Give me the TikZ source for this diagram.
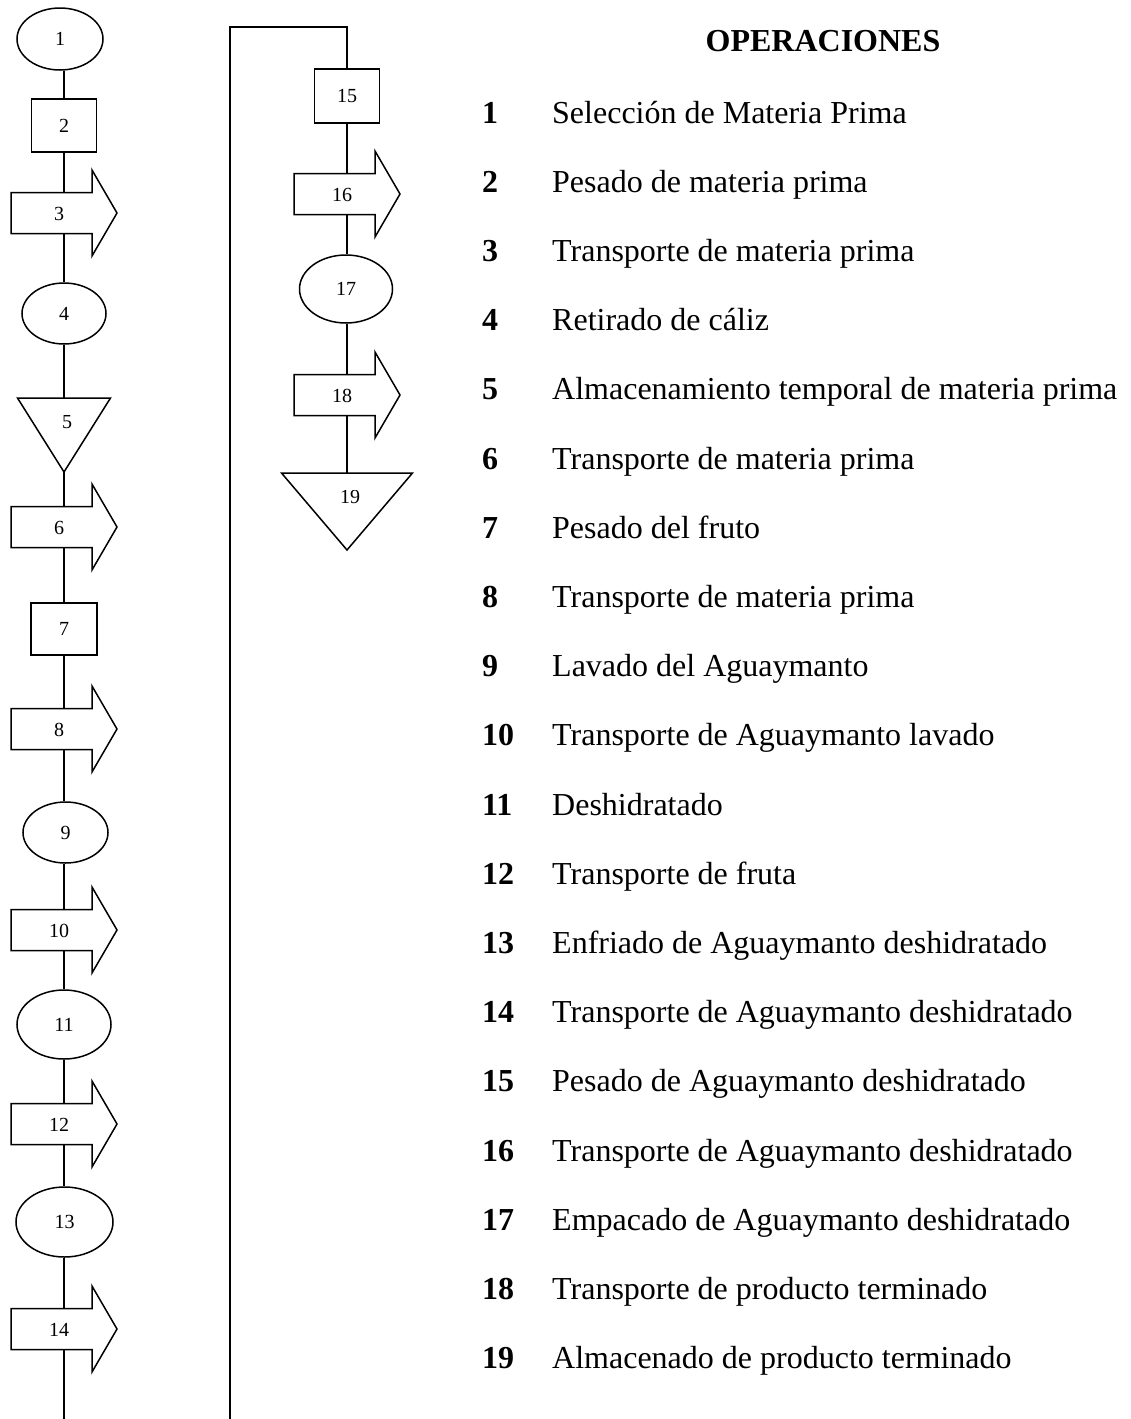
\documentclass[tikz,border=0pt]{standalone}
\usepackage{fontspec}
\setmainfont{Liberation Serif}
\usetikzlibrary{shapes.geometric,calc}
\newcommand\lblfont{\fontsize{20}{20}\selectfont}
\newcommand\flecha[4]{% name, line x, centre y, label
\begin{scope}[shift={(#2,#3)}]
\draw[shp] (-53,-20.5) -- (28,-20.5) -- (28,-43) -- (53,0) -- (28,43) -- (28,20.5) -- (-53,20.5) -- cycle;
\node[lbl] (#1) at (-5,1) {#4};
\coordinate (#1t) at (0,-20.5);
\coordinate (#1b) at (0,20.5);
\end{scope}}
\newcommand\almacen[6]{% name, x, top y, half width, height, label
\begin{scope}[shift={(#2,#3)}]
\draw[shp] (-#4,0) -- (#4,0) -- (0,#5) -- cycle;
\begin{scope}
\clip (-30,17.5) rectangle (30,45);
\node[lbl] (#1) at (3,24) {#6};
\end{scope}
\coordinate (#1t) at (0,0);
\coordinate (#1b) at (0,#5);
\end{scope}}
\begin{document}
\begin{tikzpicture}[x=1pt,y=-1pt,
  shp/.style={draw=black,line width=1.5pt,fill=white,line join=miter},
  ell/.style={shp,ellipse,inner sep=0pt,font=\lblfont},
  box/.style={shp,rectangle,inner sep=0pt,font=\lblfont},
  lbl/.style={font=\lblfont,inner sep=0pt},
  conn/.style={draw=black,line width=1.5pt},
  num/.style={font=\fontsize{32}{32}\selectfont\bfseries,anchor=base west,inner sep=0pt},
  txt/.style={font=\fontsize{32}{32}\selectfont,anchor=base west,inner sep=0pt}]
\useasboundingbox[fill=white] (0,0) rectangle (1130,1419);

% left column
\node[ell,minimum width=86,minimum height=62] (e1) at (60,39) {1};
\node[box,minimum width=65,minimum height=53] (r2) at (64,125.5) {2};
\flecha{a3}{64}{213}{3}
\node[ell,minimum width=84,minimum height=61] (e4) at (64,313.5) {4};
\almacen{t5}{64}{398}{46.5}{74}{5}
\flecha{a6}{64}{527}{6}
\node[box,minimum width=66,minimum height=52] (r7) at (64,629) {7};
\flecha{a8}{64}{729}{8}
\node[ell,minimum width=85,minimum height=61] (e9) at (65.5,832.5) {9};
\flecha{a10}{64}{930}{10}
\node[ell,minimum width=94,minimum height=69] (e11) at (64,1024.5) {11};
\flecha{a12}{64}{1124}{12}
\node[ell,minimum width=97,minimum height=70] (e13) at (64.5,1222) {13};
\flecha{a14}{64}{1329}{14}
\coordinate (cL) at (64,1419);

% right column
\coordinate (cR) at (230,1419);
\coordinate (cT) at (230,27);
\node[box,minimum width=65,minimum height=54] (r15) at (347,96) {15};
\flecha{a16}{347}{194}{16}
\node[ell,minimum width=93,minimum height=68] (e17) at (346,289) {17};
\flecha{a18}{347}{395}{18}
\almacen{t19}{347}{473}{65.5}{77}{19}

% connectors
\draw[conn] (r2.north |- e1.south) -- (r2.north);
\draw[conn] (r2.south) -- (a3t);
\draw[conn] (a3b) -- (e4.north);
\draw[conn] (e4.south) -- (t5t);
\draw[conn] (t5b) -- (a6t);
\draw[conn] (a6b) -- (r7.north);
\draw[conn] (r7.south) -- (a8t);
\draw[conn] (a8b) -- (a8b |- e9.north);
\draw[conn] (a10t |- e9.south) -- (a10t);
\draw[conn] (a10b) -- (e11.north);
\draw[conn] (e11.south) -- (a12t);
\draw[conn] (a12b) -- (a12b |- e13.north);
\draw[conn] (a14t |- e13.south) -- (a14t);
\draw[conn] (a14b) -- (cL);
\draw[conn] (cR) -- (cT) -| (r15.north);
\draw[conn] (r15.south) -- (a16t);
\draw[conn] (a16b) -- (a16b |- e17.north);
\draw[conn] (a18t |- e17.south) -- (a18t);
\draw[conn] (a18b) -- (t19t);

% legend
\node[font=\fontsize{32}{32}\selectfont\bfseries,anchor=base,inner sep=0pt] (head) at (823,51) {OPERACIONES};
\foreach \i/\t in {1/Selección de Materia Prima,
  2/Pesado de materia prima,
  3/Transporte de materia prima,
  4/Retirado de cáliz,
  5/Almacenamiento temporal de materia prima,
  6/Transporte de materia prima,
  7/Pesado del fruto,
  8/Transporte de materia prima,
  9/Lavado del Aguaymanto,
  10/Transporte de Aguaymanto lavado,
  11/Deshidratado,
  12/Transporte de fruta,
  13/Enfriado de Aguaymanto deshidratado,
  14/Transporte de Aguaymanto deshidratado,
  15/Pesado de Aguaymanto deshidratado,
  16/Transporte de Aguaymanto deshidratado,
  17/Empacado de Aguaymanto deshidratado,
  18/Transporte de producto terminado,
  19/Almacenado de producto terminado}{
  \node[num] (n\i) at (482,{123+69.2*(\i-1)}) {\i};
  \node[txt] (t\i) at (552,{123+69.2*(\i-1)}) {\t};
}
\end{tikzpicture}
\end{document}
